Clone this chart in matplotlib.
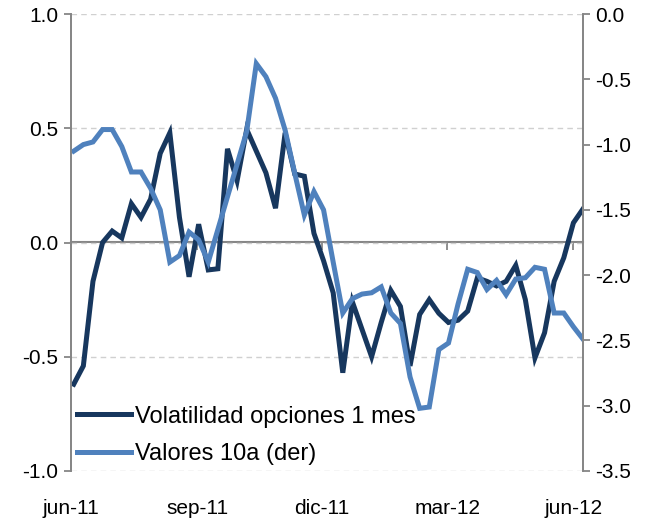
import numpy as np
import pandas as pd
import matplotlib
matplotlib.use('Agg')
import matplotlib.pyplot as plt

# weekly observations, jun-2011 .. jun-2012
dates = pd.date_range('2011-06-03', periods=54, freq='7D')

vol_opciones = [-0.62, -0.54, -0.17, 0.00, 0.05, 0.02, 0.17, 0.11, 0.19, 0.39,
                0.48, 0.11, -0.15, 0.08, -0.12, -0.115, 0.41, 0.27, 0.495, 0.40,
                0.305, 0.15, 0.48, 0.30, 0.29, 0.04, -0.08, -0.22, -0.57, -0.26,
                -0.38, -0.50, -0.35, -0.21, -0.28, -0.54, -0.315, -0.25, -0.31, -0.35,
                -0.34, -0.30, -0.155, -0.17, -0.19, -0.17, -0.10, -0.25, -0.505, -0.395,
                -0.17, -0.067, 0.086, 0.147]

valores_10a = [-1.05, -1.00, -0.98, -0.885, -0.885, -1.015, -1.21, -1.21, -1.335, -1.50,
               -1.90, -1.85, -1.67, -1.73, -1.90, -1.65, -1.40, -1.15, -0.90, -0.38,
               -0.48, -0.645, -0.89, -1.22, -1.54, -1.36, -1.50, -1.90, -2.29, -2.18,
               -2.145, -2.135, -2.09, -2.29, -2.37, -2.78, -3.02, -3.01, -2.57, -2.52,
               -2.22, -1.955, -1.98, -2.11, -2.04, -2.15, -2.03, -2.02, -1.94, -1.955,
               -2.29, -2.29, -2.395, -2.49]

tick_dates = pd.to_datetime(['2011-06-01', '2011-09-01', '2011-12-01', '2012-03-01', '2012-06-01'])
tick_labels = ['jun-11', 'sep-11', 'dic-11', 'mar-12', 'jun-12']
left_ticks = [-1.0, -0.5, 0.0, 0.5, 1.0]
right_ticks = [-3.5, -3.0, -2.5, -2.0, -1.5, -1.0, -0.5, 0.0]

plt.rcParams['font.family'] = ['Liberation Sans', 'DejaVu Sans']
plt.rcParams['axes.unicode_minus'] = False

DARK = '#17375E'
LIGHT = '#4F81BD'
AXIS = '#868686'
FS = 15

fig = plt.figure(figsize=(6.46, 5.19), dpi=100)
ax = fig.add_axes([71 / 646, 1 - 471 / 519, 512 / 646, 457 / 519])
ax2 = ax.twinx()

l1, = ax.plot(dates, vol_opciones, color=DARK, lw=3.6, solid_joinstyle='miter')
l2, = ax2.plot(dates, valores_10a, color=LIGHT, lw=3.6, solid_joinstyle='miter')

ax.set_xlim(pd.Timestamp('2011-06-01'), dates[-1])
ax.set_ylim(-1.0, 1.0)
ax2.set_ylim(-3.5, 0.0)

ax.set_yticks(left_ticks)
ax.set_yticklabels(['%.1f' % v for v in left_ticks])
ax2.set_yticks(right_ticks)
ax2.set_yticklabels(['%.1f' % v for v in right_ticks])

for a in (ax, ax2):
    for s in ('top', 'bottom'):
        a.spines[s].set_visible(False)
    a.spines['left'].set_color(AXIS)
    a.spines['right'].set_color(AXIS)
    a.spines['left'].set_linewidth(1.3)
    a.spines['right'].set_linewidth(1.3)
    a.tick_params(axis='y', colors=AXIS, labelcolor='black', labelsize=FS,
                  length=5, width=1.3, pad=4)

ax.yaxis.grid(True, color='#D0D0D0', linestyle=(0, (4, 3)), linewidth=1)
ax.set_axisbelow(True)

# date labels at the bottom, tick marks on the zero line
ax.set_xticks(tick_dates)
ax.set_xticklabels(tick_labels)
ax.tick_params(axis='x', length=0, labelsize=FS, pad=20)

zero = ax.secondary_xaxis(0.5)
zero.set_xticks(tick_dates)
zero.set_xticklabels([])
zero.xaxis.set_ticks_position('bottom')
zero.tick_params(axis='x', direction='out', length=5, width=1.3, colors=AXIS)
for s in ('top', 'bottom'):
    zero.spines[s].set_color(AXIS)
    zero.spines[s].set_linewidth(1.5)

ax2.legend([l1, l2], ['Volatilidad opciones 1 mes', 'Valores 10a (der)'],
           loc='lower left', bbox_to_anchor=(0.0, 0.0), frameon=False,
           fontsize=17, handlelength=2.3, handletextpad=0.15,
           labelspacing=0.65, borderaxespad=0.15, borderpad=0.1)

fig.savefig('out.png', dpi=100)
